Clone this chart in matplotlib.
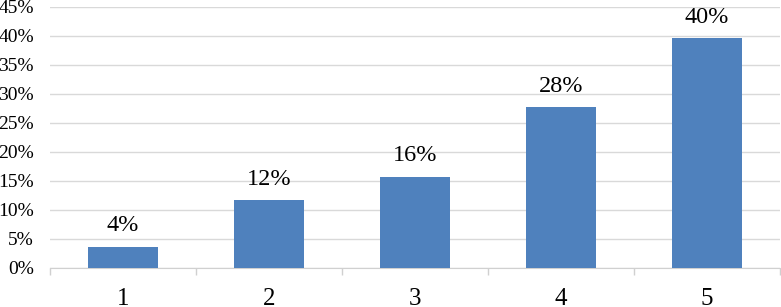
import matplotlib
matplotlib.use("Agg")
import matplotlib.pyplot as plt
from matplotlib.ticker import FixedLocator, PercentFormatter

categories = ["1", "2", "3", "4", "5"]
values = [3.6, 11.6, 15.7, 27.7, 39.6]
yticks = [0, 5, 10, 15, 20, 25, 30, 35, 40, 45]

plt.rcParams['font.family'] = ['Liberation Serif', 'DejaVu Serif']

fig = plt.figure(figsize=(7.81, 3.07), dpi=100)
ax = fig.add_axes([50/781, 1-267.5/307, 730/781, (267.5-6.7)/307])

x = list(range(len(categories)))
ax.bar(x, values, width=0.475, color='#4f81bd', zorder=3)
for xi, v in zip(x, values):
    ax.annotate(f"{v:.0f}%", (xi, v), xytext=(0, 11), textcoords='offset points',
                ha='center', va='baseline', fontsize=17.5)

ax.set_xlim(-0.5, len(categories) - 0.5)
ax.set_ylim(0, 45)
ax.set_yticks(yticks)
ax.yaxis.set_major_formatter(PercentFormatter(decimals=0))
ax.grid(axis='y', color='#d9d9d9', linewidth=1, zorder=0)
for s in ['top', 'right', 'left']:
    ax.spines[s].set_visible(False)
ax.spines['bottom'].set_color('#d0d0d0')
ax.tick_params(axis='y', length=0, labelsize=14, pad=11.5)
ax.set_xticks(x)
ax.set_xticklabels(categories)
ax.xaxis.set_minor_locator(FixedLocator([i - 0.5 for i in range(len(categories) + 1)]))
ax.tick_params(axis='x', which='major', length=0, labelsize=18, pad=15)
ax.tick_params(axis='x', which='minor', length=5, color='#d0d0d0', width=1)

fig.savefig("out.png", dpi=100)
